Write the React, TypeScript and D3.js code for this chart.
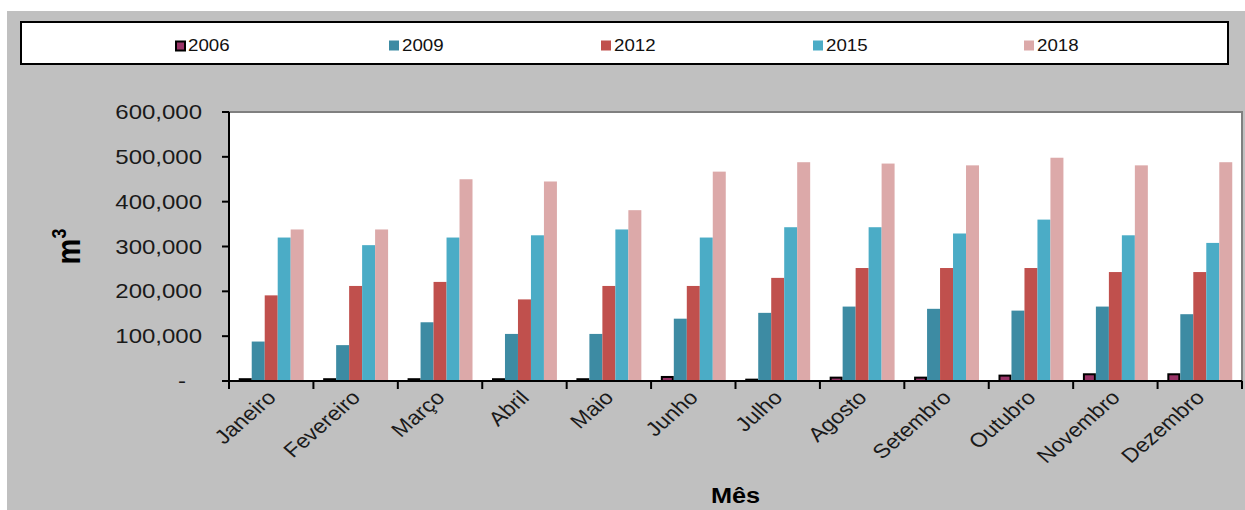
import React from "react";
import * as d3 from "d3";

// Monthly volumes (m³) by year
const months = [
  "Janeiro", "Fevereiro", "Março", "Abril", "Maio", "Junho",
  "Julho", "Agosto", "Setembro", "Outubro", "Novembro", "Dezembro",
];
const years = ["2006", "2009", "2012", "2015", "2018"];
const v2006 = [4000, 4000, 4000, 4000, 4000, 9000, 3000, 7500, 7500, 12000, 15000, 15000];
const v2009 = [88000, 80000, 131000, 105000, 105000, 139000, 152000, 166000, 161000, 157000, 166000, 149000];
const v2012 = [191000, 212000, 221000, 182000, 212000, 212000, 230000, 252000, 252000, 252000, 243000, 243000];
const v2015 = [320000, 303000, 320000, 325000, 338000, 320000, 343000, 343000, 329000, 360000, 325000, 308000];
const v2018 = [338000, 338000, 450000, 445000, 381000, 467000, 488000, 485000, 481000, 498000, 481000, 488000];
const yTicks = [0, 100000, 200000, 300000, 400000, 500000, 600000];

const seriesValues = [v2006, v2009, v2012, v2015, v2018];
const colors = ["#993366", "#3D8BA3", "#C0504D", "#4BACC6", "#DCA9A9"];

const W = 1245;
const H = 510;
const plot = { left: 229, right: 1242, top: 112, bottom: 381 };
const FONT = "'Liberation Sans', Arial, sans-serif";

export default function App() {
  const x0 = d3
    .scaleBand<string>()
    .domain(months)
    .range([plot.left, plot.right])
    .paddingInner(1.5 / 6.5)
    .paddingOuter(0.75 / 6.5);
  const x1 = d3.scaleBand<string>().domain(years).range([0, x0.bandwidth()]);
  const y = d3.scaleLinear().domain([0, 600000]).range([plot.bottom, plot.top]);
  const fmt = d3.format(",");
  const step = x0.step();
  const catEdges = d3.range(months.length + 1).map((i) => plot.left + i * step);

  const legendX = [175, 389, 601, 813, 1024];

  return (
    <div style={{ position: "absolute", left: 0, top: 0 }}>
      <svg width={W} height={H} style={{ display: "block" }} fontFamily={FONT}>
        <rect x={0} y={0} width={W} height={H} fill="#ffffff" />
        <rect x={7} y={11} width={W - 7} height={H - 11} fill="#C0C0C0" />

        {/* legend */}
        <rect x={21} y={22} width={1207} height={42} fill="#ffffff" stroke="#000" strokeWidth={2} />
        {years.map((yr, i) => (
          <g key={yr}>
            {i === 0 ? (
              <rect x={legendX[i] + 1} y={41.5} width={9} height={9} fill={colors[i]} stroke="#000" strokeWidth={2} />
            ) : (
              <rect x={legendX[i]} y={40.5} width={10} height={10} fill={colors[i]} />
            )}
            <text
              transform={`translate(${legendX[i] + 13},51) scale(1.1,1)`}
              fontSize={17}
              fill="#111"
            >
              {yr}
            </text>
          </g>
        ))}

        {/* plot area */}
        <rect
          x={plot.left}
          y={plot.top}
          width={plot.right - plot.left}
          height={plot.bottom - plot.top}
          fill="#ffffff"
        />
        <path
          d={`M${plot.left},${plot.top}H${plot.right}V${plot.bottom}`}
          fill="none"
          stroke="#808080"
          strokeWidth={2}
        />

        {/* bars */}
        {months.map((m, mi) => (
          <g key={m} transform={`translate(${x0(m)},0)`}>
            {years.map((yr, si) => {
              const v = seriesValues[si][mi];
              const bx = x1(yr) as number;
              const bw = x1.bandwidth();
              if (si === 0) {
                return (
                  <rect
                    key={yr}
                    x={bx + 1}
                    y={y(v)}
                    width={bw - 2}
                    height={plot.bottom - y(v)}
                    fill={colors[si]}
                    stroke="#000"
                    strokeWidth={2}
                  />
                );
              }
              return (
                <rect
                  key={yr}
                  x={bx}
                  y={y(v)}
                  width={bw}
                  height={plot.bottom - y(v)}
                  fill={colors[si]}
                />
              );
            })}
          </g>
        ))}

        {/* y axis */}
        <line x1={plot.left} x2={plot.left} y1={plot.top} y2={plot.bottom} stroke="#000" strokeWidth={2} />
        {yTicks.map((t) => (
          <g key={t}>
            <line x1={plot.left - 7} x2={plot.left} y1={y(t)} y2={y(t)} stroke="#000" strokeWidth={2} />
            <text
              transform={`translate(${t === 0 ? 186 : 202},${y(t) + 7}) scale(1.2,1)`}
              textAnchor="end"
              fontSize={20}
              fill="#1a1a1a"
            >
              {t === 0 ? "-" : fmt(t)}
            </text>
          </g>
        ))}

        {/* x axis */}
        <line x1={plot.left} x2={plot.right} y1={plot.bottom} y2={plot.bottom} stroke="#000" strokeWidth={2} />
        {catEdges.map((ex, i) => (
          <line key={i} x1={ex} x2={ex} y1={plot.bottom} y2={plot.bottom + 8} stroke="#000" strokeWidth={2} />
        ))}
        {months.map((m) => {
          const cx = (x0(m) as number) + x0.bandwidth() / 2;
          return (
            <text
              key={m}
              transform={`translate(${cx + 6},${plot.bottom + 18}) scale(1.15,1) rotate(-45)`}
              textAnchor="end"
              fontSize={20}
              fill="#1a1a1a"
            >
              {m}
            </text>
          );
        })}

        {/* axis titles */}
        <text
          transform={`translate(80,${(plot.top + plot.bottom) / 2}) scale(1.15,1) rotate(-90)`}
          textAnchor="middle"
          fontSize={29}
          fontWeight="bold"
          fill="#000"
        >
          m<tspan dy={-12} fontSize={18}>3</tspan>
        </text>
        <text
          transform={`translate(${(plot.left + plot.right) / 2},${H - 7}) scale(1.15,1)`}
          textAnchor="middle"
          fontSize={22}
          fontWeight="bold"
          fill="#000"
        >
          Mês
        </text>
      </svg>
    </div>
  );
}
